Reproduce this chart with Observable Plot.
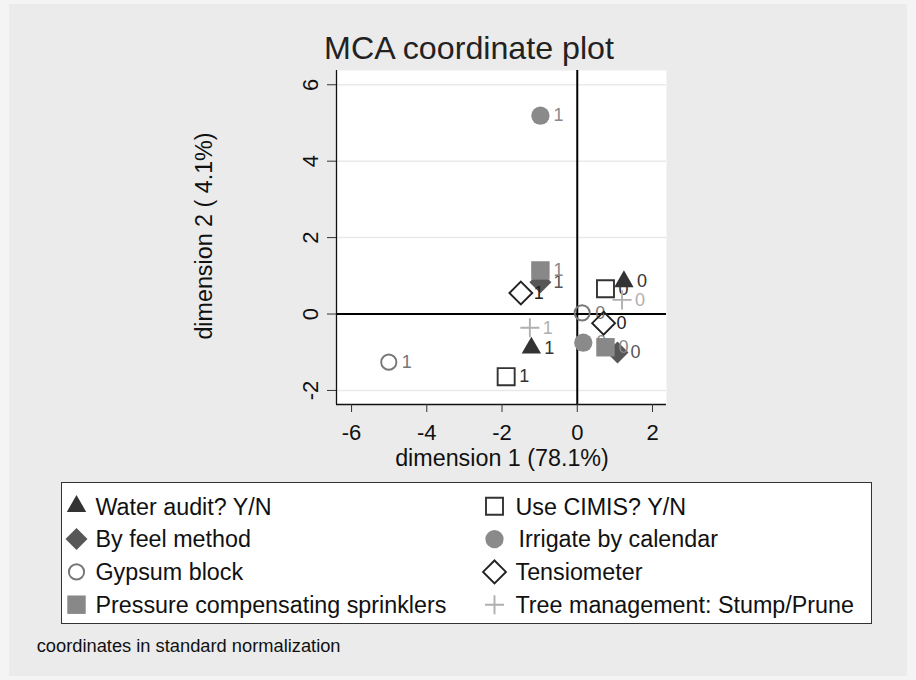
<!DOCTYPE html>
<html>
<head>
<meta charset="utf-8">
<script src="https://cdn.jsdelivr.net/npm/d3@7"></script>
<script src="https://cdn.jsdelivr.net/npm/@observablehq/plot@0.6"></script>
<style>
  html, body { margin: 0; padding: 0; background: #f4f4f4; }
  #wrap { position: relative; width: 916px; height: 680px; background: #f4f4f4; overflow: hidden;
          font-family: "Liberation Sans", Arial, Helvetica, sans-serif; color: #111; }
  #inner { position: absolute; left: 9px; top: 4px; width: 898px; height: 672px; background: #ebebeb; }
  #chart { position: absolute; left: 0; top: 0; }
  .abs { position: absolute; white-space: nowrap; line-height: 1; }
  #title { left: 469px; top: 31.8px; transform: translateX(-50%); font-size: 32.2px; color: #222; }
  #xtitle { left: 502px; top: 446.5px; transform: translateX(-50%); font-size: 23.3px; }
  #ytitle { left: 205px; top: 236px; transform: translate(-50%, -50%) rotate(-90deg); font-size: 23.3px; }
  #caption { left: 36.7px; top: 636.5px; font-size: 18.3px; }
  #legend { left: 60.7px; top: 481.7px; width: 809px; height: 140.6px; background: #fff; border: 1px solid #333; }
</style>
</head>
<body>
<div id="wrap">
  <div id="inner"></div>
  <div id="chart"></div>
  <div id="title" class="abs">MCA coordinate plot</div>
  <div id="xtitle" class="abs">dimension 1 (78.1%)</div>
  <div id="ytitle" class="abs">dimension 2 ( 4.1%)</div>
  <div id="legend" class="abs"></div>
  <div id="caption" class="abs">coordinates in standard normalization</div>
</div>
<script>
// ---------- data ----------
const seriesNames = [
  "Water audit? Y/N", "Use CIMIS? Y/N", "By feel method", "Irrigate by calendar",
  "Gypsum block", "Tensiometer", "Pressure compensating sprinklers", "Tree management: Stump/Prune"
];
const categoryLabels = ["0", "1"];
// dimension 1 coordinates per series: [category 0, category 1]
const dim1 = [
  [1.24, -1.22], [0.75, -1.89], [1.07, -0.98], [0.16, -0.98],
  [0.13, -5.01], [0.70, -1.50], [0.75, -0.98], [1.19, -1.26]
];
// dimension 2 coordinates per series: [category 0, category 1]
const dim2 = [
  [0.85, -0.89], [0.66, -1.64], [-1.01, 0.83], [-0.75, 5.19],
  [0.03, -1.26], [-0.24, 0.55], [-0.87, 1.14], [0.37, -0.36]
];
const xTicks = [-6, -4, -2, 0, 2];
const yTicks = [-2, 0, 2, 4, 6];

// ---------- styles ----------
const styles = [
  {symbol: d3.symbolTriangle, r: 7.2, filled: true, color: "#333333"},
  {symbol: d3.symbolSquare, r: 9.6, filled: false, color: "#333333"},
  {symbol: d3.symbolDiamond2, r: 9.9, filled: true, color: "#575757"},
  {symbol: d3.symbolCircle, r: 9.15, filled: true, color: "#8a8a8a"},
  {symbol: d3.symbolCircle, r: 7.6, filled: false, color: "#777777"},
  {symbol: d3.symbolDiamond2, r: 10.3, filled: false, color: "#222222"},
  {symbol: d3.symbolSquare, r: 10.4, filled: true, color: "#888888"},
  {symbol: d3.symbolPlus, r: 6.2, filled: false, color: "#b0b0b0"}
];
const FONT = '"Liberation Sans", Arial, Helvetica, sans-serif';
const xDomain = [-6.4, 2.372];
const yDomain = [-2.368, 6.373];

const seriesRows = seriesNames.map((name, i) =>
  categoryLabels.map((lab, j) => ({series: name, label: lab, x: dim1[i][j], y: dim2[i][j]}))
);

const seriesMarks = seriesRows.flatMap((rows, i) => {
  const s = styles[i];
  return [
    Plot.dot(rows, {
      x: "x", y: "y", symbol: s.symbol, r: s.r,
      fill: s.filled ? s.color : "none",
      stroke: s.filled ? "none" : s.color,
      strokeWidth: s.filled ? 0 : 1.9
    }),
    Plot.text(rows, {
      x: "x", y: "y", text: "label", dx: 13, textAnchor: "start",
      fill: s.color, fontSize: 18
    })
  ];
});

const chart = Plot.plot({
  width: 916, height: 470,
  marginLeft: 336, marginRight: 250, marginTop: 70, marginBottom: 66,
  x: {domain: xDomain},
  y: {domain: yDomain},
  style: {background: "transparent", fontFamily: FONT, fontSize: "22px", color: "#111", overflow: "visible"},
  marks: [
    Plot.frame({fill: "white", stroke: null}),
    Plot.gridY(yTicks, {stroke: "#e9e9e9", strokeOpacity: 1, strokeWidth: 1.5}),
    Plot.ruleX([0], {stroke: "#000", strokeWidth: 2}),
    Plot.ruleY([0], {stroke: "#000", strokeWidth: 2}),
    Plot.ruleX([xDomain[0]], {stroke: "#111", strokeWidth: 1.3}),
    Plot.ruleY([yDomain[0]], {stroke: "#111", strokeWidth: 1.3}),
    Plot.axisX(xTicks, {tickSize: 8, tickPadding: 12, tickFormat: d => String(d), label: null, stroke: "#333", fontSize: 22}),
    Plot.axisY(yTicks, {tickSize: 9, tickPadding: 10, tickRotate: -90, tickFormat: d => String(d), label: null, stroke: "#333", fontSize: 22}),
    ...seriesMarks
  ]
});
document.getElementById("chart").appendChild(chart);

// ---------- legend ----------
const legendDiv = d3.select("#legend");
const lsvg = legendDiv.append("svg").attr("width", 809).attr("height", 140.6)
  .style("display", "block").style("font-family", FONT);
const colMarkerX = [14.5, 432.5];
const colTextX = [33.5, 453.5];
seriesNames.forEach((name, i) => {
  const row = Math.floor(i / 2), col = i % 2;
  const s = styles[i];
  const baseline = 31.6 + 32.8 * row;
  const cy = baseline - 8.3;
  lsvg.append("path")
    .attr("d", d3.symbol(s.symbol, Math.PI * s.r * s.r)())
    .attr("transform", `translate(${colMarkerX[col]},${cy})`)
    .attr("fill", s.filled ? s.color : "none")
    .attr("stroke", s.filled ? "none" : s.color)
    .attr("stroke-width", s.filled ? 0 : 1.9);
  lsvg.append("text")
    .attr("x", colTextX[col] + (i === 3 ? 3 : 0))
    .attr("y", baseline)
    .attr("font-size", 23.3)
    .attr("fill", "#111")
    .text(name);
});
</script>
</body>
</html>
